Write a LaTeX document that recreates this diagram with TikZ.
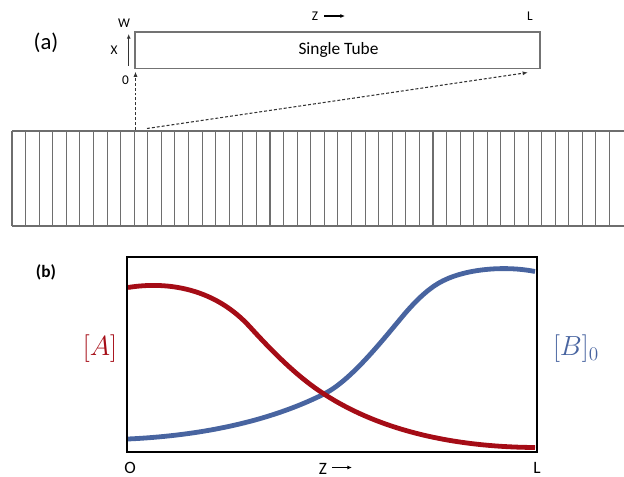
\documentclass[tikz,border=0pt]{standalone}
\usepackage{fontspec}
\setmainfont{Carlito}
\usetikzlibrary{arrows.meta}
\definecolor{cred}{RGB}{165,12,22}
\definecolor{cblue}{RGB}{72,100,160}
\definecolor{tubegray}{RGB}{110,110,110}
\begin{document}
\begin{tikzpicture}[x=0.75pt,y=-0.75pt,
  lbl/.style={inner sep=0pt, font=\fontsize{10}{12}\selectfont},
  blbl/.style={inner sep=0pt, font=\fontsize{13}{15}\selectfont},
  tubeline/.style={draw=tubegray, line width=0.8pt},
  curve/.style={line width=3.6pt},
  dasharrow/.style={draw=black!80, line width=0.8pt, dash pattern=on 2.2pt off 1.5pt, -{Latex[length=4pt,width=3pt]}}]
\useasboundingbox (0,0) rectangle (624,477);
% (a)
\node[inner sep=0pt, font=\fontsize{17}{20}\selectfont] (la) at (46,43) {(a)};
\coordinate (tnw) at (135,32);
\coordinate (tse) at (540,68.5);
\draw[draw=black!55, line width=1.1pt] (tnw) rectangle (tse);
\node[inner sep=0pt, font=\fontsize{13}{15}\selectfont] (st) at (338.5,50) {Single Tube};
\node[lbl] (w) at (124,23) {W};
\node[lbl] (x) at (114,50) {X};
\node[lbl] (zero) at (125.5,80) {0};
\node[lbl] (za) at (315,16) {Z};
\coordinate (zas) at (324,16);
\coordinate (zae) at (345,16);
\draw[line width=0.9pt, -{Latex[length=3.5pt,width=3pt]}] (zas) -- (zae);
\node[lbl] (la2) at (530,16) {L};
\coordinate (xs) at (128.7,66);
\coordinate (xe) at (128.7,34);
\draw[line width=0.8pt, black!80, -{Latex[length=3.5pt,width=3pt]}] (xs) -- (xe);
% bank of tubes
\foreach \i in {0,...,44} {
  \draw[tubeline] ({12+\i*13.58},131) -- ({12+\i*13.58},226);
}
\draw[tubeline] (12,131) -- (624,131);
\draw[tubeline] (12,226) -- (624,226);
\coordinate (d1s) at (135.5,130);
\coordinate (d1e) at (135.5,71.5);
\coordinate (d2s) at (147,128.5);
\coordinate (d2e) at (528,72.5);
\draw[dasharrow] (d1s) -- (d1e);
\draw[dasharrow] (d2s) -- (d2e);
% (b)
\node[inner sep=0pt, font=\bfseries\fontsize{13}{15}\selectfont] (lb) at (46,272) {(b)};
\draw[cblue, curve] (128,439) .. controls (193,436) and (264,424) .. (324,394)
  .. controls (350,381) and (380,343.4) .. (402,317)
  .. controls (414,302.6) and (426,290.7) .. (438,283.5)
  .. controls (463,268.5) and (505,265.5) .. (535,271.5);
\draw[cred, curve] (128,287.5) .. controls (168,281) and (215,288.5) .. (250,327)
  .. controls (275,354.5) and (299,378) .. (324,394)
  .. controls (384,433) and (460,447) .. (535,447.5);
\coordinate (pnw) at (127,257);
\coordinate (pse) at (537,452);
\draw[black, line width=1.9pt] (pnw) rectangle (pse);
\node[inner sep=0pt, text=cred, font=\fontsize{22}{24}\selectfont] (A) at (100,349) {$[A]$};
\node[inner sep=0pt, text=cblue, font=\fontsize{22}{24}\selectfont] (B) at (576,349) {$[B]_0$};
\node[blbl] (o) at (130,468) {O};
\node[blbl] (zb) at (323,469) {Z};
\coordinate (zbs) at (332,467.5);
\coordinate (zbe) at (352,467.5);
\draw[line width=1pt, -{Latex[length=3.5pt,width=3pt]}] (zbs) -- (zbe);
\node[blbl] (lb2) at (537,468) {L};
\end{tikzpicture}
\end{document}
